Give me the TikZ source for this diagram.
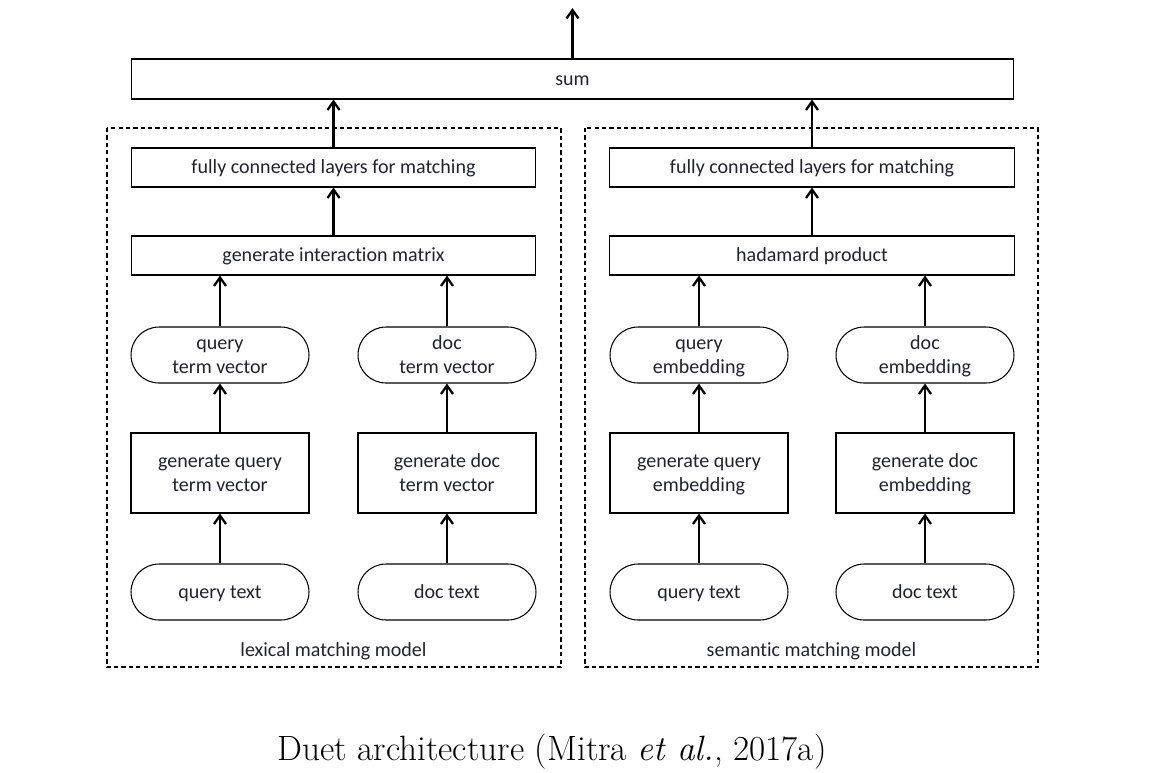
\documentclass[tikz,border=0pt]{standalone}
\usepackage{fontspec}
\setmainfont{Latin Modern Roman}
\newfontfamily\boxfont{Carlito}[Ligatures=NoCommon]
\usetikzlibrary{arrows.meta}
\definecolor{txt}{HTML}{22222E}
\newcommand{\sr}{\rule[-0.14\baselineskip]{0pt}{0.82\baselineskip}}
\tikzset{
  box/.style={draw=black, line width=0.6pt, inner sep=0pt, align=center, text=txt, font=\boxfont\fontsize{11.4}{13.6}\selectfont},
  widebox/.style={box, minimum width=8.1cm, minimum height=0.78cm},
  genbox/.style={box, minimum width=3.56cm, minimum height=1.6cm},
  pill/.style={box, minimum width=3.56cm, minimum height=1.12cm, rounded corners=0.56cm},
  group/.style={draw=black, line width=0.6pt, dash pattern=on 2.4pt off 1.8pt},
  arr/.style={line width=1.3pt, -{Straight Barb[length=1.7mm,width=2.4mm]}},
  lbl/.style={text=txt, inner sep=0pt, font=\boxfont\fontsize{11.4}{13.6}\selectfont}
}
\begin{document}
\begin{tikzpicture}[x=0.02cm, y=-0.02cm]
\useasboundingbox (0,0) rectangle (1170,772);
% groups
\draw[group] (107,128) rectangle (561,667);
\draw[group] (585,128) rectangle (1038,667);
% top
\node[box, minimum width=17.66cm, minimum height=0.8cm] (sum) at (572.5,79) {\sr sum};
\coordinate (out) at (572.5,8);
% left column
\node[widebox] (lfc) at (333.5,167.5) {\sr fully connected layers for matching};
\node[widebox] (lim) at (333.5,255.5) {\sr generate interaction matrix};
\node[pill] (qtv) at (220,355) {\sr query\\\sr term vector};
\node[pill] (dtv) at (447,355) {\sr doc\\\sr term vector};
\node[genbox] (gqtv) at (220,473) {\sr generate query\\\sr term vector};
\node[genbox] (gdtv) at (447,473) {\sr generate doc\\\sr term vector};
\node[pill] (lqt) at (220,592) {\sr query text};
\node[pill] (ldt) at (447,592) {\sr doc text};
\node[lbl] (llab) at (333.5,650) {\sr lexical matching model};
% right column
\node[widebox] (rfc) at (812,167.5) {\sr fully connected layers for matching};
\node[widebox] (rhp) at (812,255.5) {\sr hadamard product};
\node[pill] (qe) at (699,355) {\sr query\\\sr embedding};
\node[pill] (de) at (925,355) {\sr doc\\\sr embedding};
\node[genbox] (gqe) at (699,473) {\sr generate query\\\sr embedding};
\node[genbox] (gde) at (925,473) {\sr generate doc\\\sr embedding};
\node[pill] (rqt) at (699,592) {\sr query text};
\node[pill] (rdt) at (925,592) {\sr doc text};
\node[lbl] (rlab) at (811.5,650) {\sr semantic matching model};
% caption
\node[font=\fontsize{20}{24}\selectfont] (cap) at (552,752) {Duet architecture (Mitra \textit{et al.}, 2017a)};
% arrows
\draw[arr] (sum.north) -- (out);
\draw[arr] (lfc.north) -- (lfc.north |- sum.south);
\draw[arr] (rfc.north) -- (rfc.north |- sum.south);
\draw[arr] (lim) -- (lfc);
\draw[arr] (rhp) -- (rfc);
\draw[arr] (qtv.north) -- (qtv.north |- lim.south);
\draw[arr] (dtv.north) -- (dtv.north |- lim.south);
\draw[arr] (qe.north) -- (qe.north |- rhp.south);
\draw[arr] (de.north) -- (de.north |- rhp.south);
\draw[arr] (gqtv) -- (qtv);
\draw[arr] (gdtv) -- (dtv);
\draw[arr] (gqe) -- (qe);
\draw[arr] (gde) -- (de);
\draw[arr] (lqt) -- (gqtv);
\draw[arr] (ldt) -- (gdtv);
\draw[arr] (rqt) -- (gqe);
\draw[arr] (rdt) -- (gde);
\end{tikzpicture}
\end{document}
